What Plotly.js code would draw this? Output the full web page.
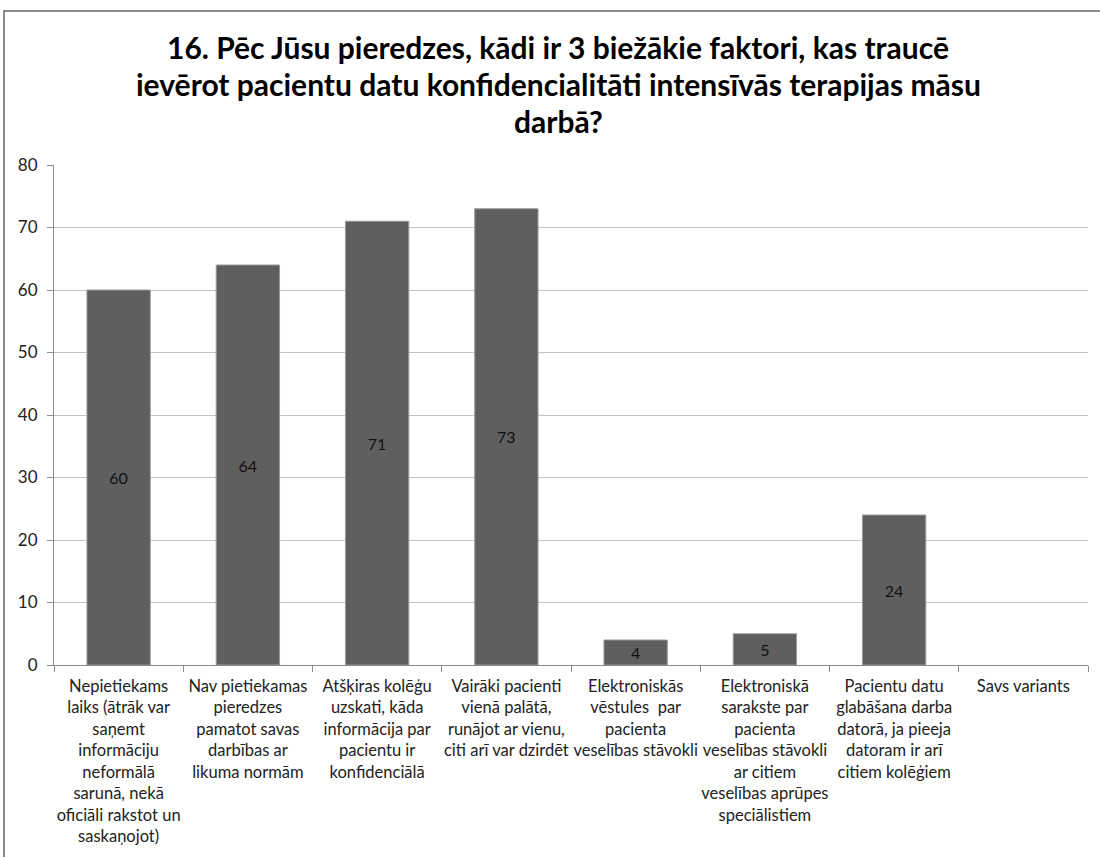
<!DOCTYPE html>
<html><head><meta charset="utf-8">
<script src="https://cdn.plot.ly/plotly-3.0.1.min.js"></script>
<style>
body{margin:0;background:#fff;}
#wrap{position:absolute;left:3px;top:10px;width:1100px;height:850px;border:2px solid #8a8a8a;background:#fff;}
#chart{width:1100px;height:850px;}
</style></head>
<body><div id="wrap"><div id="chart"></div></div>
<script>
const categories = [
  "Nepietiekams<br>laiks (ātrāk var<br>saņemt<br>informāciju<br>neformālā<br>sarunā, nekā<br>oficiāli rakstot un<br>saskaņojot)",
  "Nav pietiekamas<br>pieredzes<br>pamatot savas<br>darbības ar<br>likuma normām",
  "Atšķiras kolēģu<br>uzskati, kāda<br>informācija par<br>pacientu ir<br>konfidenciālā",
  "Vairāki pacienti<br>vienā palātā,<br>runājot ar vienu,<br>citi arī var dzirdēt",
  "Elektroniskās<br>vēstules  par<br>pacienta<br>veselības stāvokli",
  "Elektroniskā<br>sarakste par<br>pacienta<br>veselības stāvokli<br>ar citiem<br>veselības aprūpes<br>speciālistiem",
  "Pacientu datu<br>glabāšana darba<br>datorā, ja pieeja<br>datoram ir arī<br>citiem kolēģiem",
  "Savs variants"
];
const values = [60, 64, 71, 73, 4, 5, 24, 0];
const titleLines = [
  "16. Pēc Jūsu pieredzes, kādi ir 3 biežākie faktori, kas traucē",
  "ievērot pacientu datu konfidencialitāti intensīvās terapijas māsu",
  "darbā?"
];
const FONT = "Lato, 'Open Sans', sans-serif";
const trace = {
  type: 'bar',
  x: categories,
  y: values,
  text: values.map(v => v ? String(v) : ''),
  textposition: 'inside',
  insidetextanchor: 'middle',
  constraintext: 'none',
  textangle: 0,
  textfont: {family: FONT, size: 16, color: '#111'},
  marker: {color: '#5f5f5f', line: {color: '#9a9a9a', width: values.map(v => v ? 1 : 0)}},
  hoverinfo: 'none'
};
const plotTopPage = 165, plotH = 500;
const titleAnn = titleLines.map((t, i) => ({
  text: '<b>' + t + '</b>',
  xref: 'paper', yref: 'paper',
  x: 0.5 - 13/1034, xanchor: 'center',
  y: 1 + (plotTopPage - (47 + 37 * i)) / plotH, yanchor: 'middle',
  showarrow: false,
  font: {family: FONT, size: 30, color: '#000'}
}));
const layout = {
  width: 1100, height: 850,
  margin: {l: 49, r: 17, t: 153, b: 197},
  paper_bgcolor: '#fff', plot_bgcolor: '#fff',
  font: {family: FONT, size: 16, color: '#222'},
  showlegend: false,
  bargap: 0.51,
  annotations: titleAnn,
  xaxis: {
    type: 'category',
    showline: true, linecolor: '#8a8a8a', linewidth: 1,
    ticks: 'outside', ticklen: 6, tickcolor: '#8a8a8a', tickson: 'boundaries',
    showgrid: false, tickangle: 0, ticklabelstandoff: 6,
    tickfont: {family: FONT, size: 16.5, color: '#222'},
    automargin: false
  },
  yaxis: {
    range: [0, 80], dtick: 10, tick0: 0,
    showline: true, linecolor: '#8a8a8a', linewidth: 1,
    ticks: 'outside', ticklen: 6, tickcolor: '#8a8a8a', ticklabelstandoff: 6,
    showgrid: true, gridcolor: '#c4c4c4', gridwidth: 1,
    zeroline: false,
    tickfont: {family: FONT, size: 17, color: '#222'},
    automargin: false
  }
};
Plotly.newPlot('chart', [trace], layout, {displayModeBar: false, staticPlot: true});
</script></body></html>
